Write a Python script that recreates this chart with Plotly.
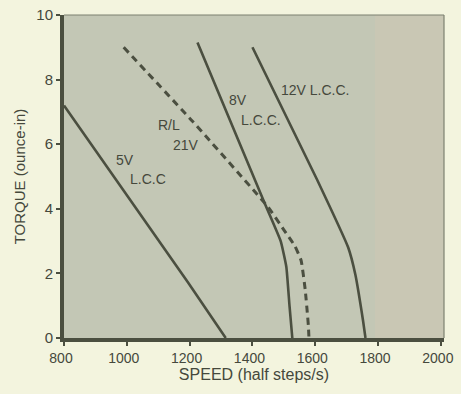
import plotly.graph_objects as go

# curves: speed (half steps/s) vs torque (ounce-in)
v5_speed = [800, 1195, 1315]
v5_torque = [7.2, 1.72, 0.0]

rl21_speed = [990, 1210, 1450, 1500, 1535, 1555, 1568, 1578, 1580]
rl21_torque = [9.0, 6.7, 4.05, 3.35, 2.85, 2.4, 1.5, 0.4, 0.0]

v8_speed = [1225, 1440, 1490, 1508, 1518, 1527]
v8_torque = [9.15, 4.15, 3.0, 2.2, 1.0, 0.0]

v12_speed = [1400, 1606, 1705, 1728, 1752, 1760]
v12_torque = [9.0, 4.9, 2.8, 1.95, 0.55, 0.0]

# label text and anchor points (left edge, middle)
label_text = ["12V L.C.C.", "8V", "L.C.C.", "R/L", "21V", "5V", "L.C.C"]
label_x = [1484, 1319, 1357, 1092, 1140, 959, 1005]
label_y = [7.67, 7.36, 6.74, 6.58, 5.96, 5.5, 4.92]

x_ticks = [800, 1000, 1200, 1400, 1600, 1800, 2000]
y_ticks = [0, 2, 4, 6, 8, 10]

ink = '#4b4f40'
txt = '#45483c'
font_fam = 'Liberation Sans, Arial, sans-serif'

fig = go.Figure()

line = dict(color=ink, width=2.6)
fig.add_trace(go.Scatter(x=v5_speed, y=v5_torque, mode='lines', line=line))
fig.add_trace(go.Scatter(x=v8_speed, y=v8_torque, mode='lines', line=dict(line, shape='spline', smoothing=0.4)))
fig.add_trace(go.Scatter(x=v12_speed, y=v12_torque, mode='lines', line=dict(line, shape='spline', smoothing=0.4)))
fig.add_trace(go.Scatter(x=rl21_speed, y=rl21_torque, mode='lines',
                         line=dict(color=ink, width=3, dash='7px,5px', shape='spline', smoothing=0.4)))

for t, x, y in zip(label_text, label_x, label_y):
    fig.add_annotation(x=x, y=y, text=t, showarrow=False, xanchor='left', yanchor='middle',
                       font=dict(size=14, color=txt, family=font_fam))

# scanned page: right part of the plot area is a bit warmer
fig.add_shape(type='rect', xref='x', yref='paper', x0=1790, x1=2010, y0=0, y1=1,
              fillcolor='#c9c7b4', line_width=0, layer='below')
# thin top and right frame
fig.add_shape(type='line', xref='paper', yref='paper', x0=0, x1=1, y0=1, y1=1,
              line=dict(color='#7d8070', width=1.2))
fig.add_shape(type='line', xref='paper', yref='paper', x0=1, x1=1, y0=0, y1=1,
              line=dict(color='#7d8070', width=1.2))

fig.update_layout(
    width=461, height=394,
    paper_bgcolor='#f3f4de',
    plot_bgcolor='#c3c7b5',
    showlegend=False,
    margin=dict(l=64, r=17, t=15, b=56, autoexpand=False),
    font=dict(family=font_fam, color=txt, size=15),
    xaxis=dict(range=[800, 2010], tickvals=x_ticks, showgrid=False, zeroline=False,
               showline=True, linecolor=ink, linewidth=4, tickfont=dict(size=14),
               ticklabelshift=-3,
               ticks='outside', ticklen=4, tickcolor=ink, tickwidth=1.5,
               title=dict(text='SPEED (half steps/s)', font=dict(size=16), standoff=4)),
    yaxis=dict(range=[0, 10], tickvals=y_ticks, showgrid=False, zeroline=False,
               showline=True, linecolor=ink, linewidth=4,
               ticks='outside', ticklen=4, tickcolor=ink, tickwidth=1.5,
               title=dict(text='TORQUE (ounce-in)', font=dict(size=15), standoff=8)),
)

# drop the browser's default page margin so the figure sits at the window corner
fig.write_html('out.html', config=dict(displayModeBar=False),
               post_script="document.body.style.margin='0';")
